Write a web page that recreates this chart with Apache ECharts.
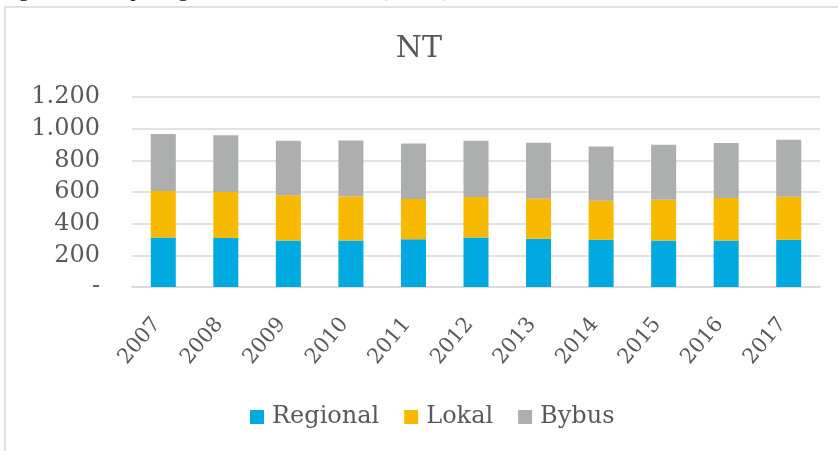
<!DOCTYPE html>
<html>
<head>
<meta charset="utf-8">
<script src="https://cdn.jsdelivr.net/npm/echarts@6/dist/echarts.min.js"></script>
<style>
  html, body { margin: 0; padding: 0; background: #fff; }
  #chart { width: 838px; height: 451px; }
</style>
</head>
<body>
<div id="chart"></div>
<script>
// data (i 1000)
const years = ['2007', '2008', '2009', '2010', '2011', '2012', '2013', '2014', '2015', '2016', '2017'];
const regional = [313, 309, 294, 294, 301, 313, 305, 299, 294, 294, 299];
const lokal = [293, 291, 285, 278, 255, 255, 253, 246, 257, 268, 271];
const bybus = [360, 358, 345, 354, 351, 356, 353, 343, 348, 347, 360];

const textColor = '#595959';
const font = 'DejaVu Serif';

const chart = echarts.init(document.getElementById('chart'));

const barSeries = (name, data, color) => ({
  name: name,
  type: 'bar',
  stack: 'total',
  data: data,
  barCategoryGap: '60%',
  itemStyle: { color: color },
  emphasis: { disabled: true },
});

const option = {
  animation: false,
  title: {
    text: 'NT',
    left: 'center',
    top: 29,
    textStyle: { fontFamily: font, fontSize: 30, fontWeight: 'normal', color: textColor },
  },
  // frame of the chart box and the clipped caption above it
  graphic: [
    {
      type: 'rect',
      shape: { x: 5, y: 7, width: 840, height: 460 },
      style: { fill: null, stroke: '#d9d9d9', lineWidth: 1.5 },
      silent: true,
    },
    {
      type: 'text',
      left: 0,
      top: -21,
      style: {
        text: 'Figur 3: Antal passagerer i NT, 2007-2017 (i 1000)',
        font: '22px "Liberation Serif"',
        fill: '#000',
      },
      silent: true,
    },
  ],
  legend: {
    bottom: 17,
    left: 245,
    itemWidth: 14,
    itemHeight: 14,
    itemGap: 25,
    icon: 'rect',
    textStyle: { fontFamily: font, fontSize: 24, color: textColor, padding: [0, 0, 0, 3] },
    data: ['Regional', 'Lokal', 'Bybus'],
  },
  grid: {
    left: 132,
    right: 18,
    top: 97,
    bottom: 164,
  },
  xAxis: {
    type: 'category',
    data: years,
    axisLine: { show: true, lineStyle: { color: '#d9d9d9', width: 1.5 } },
    axisTick: { show: false },
    axisLabel: {
      rotate: 50,
      margin: 26,
      padding: [0, 10, 0, 0],
      fontFamily: font,
      fontSize: 21,
      color: textColor,
    },
  },
  yAxis: {
    type: 'value',
    min: 0,
    max: 1200,
    interval: 200,
    axisLine: { show: false },
    axisTick: { show: false },
    splitLine: { lineStyle: { color: '#d9d9d9', width: 1.5 } },
    axisLabel: {
      margin: 32,
      fontFamily: font,
      fontSize: 24,
      color: textColor,
      formatter: function (v) {
        if (v === 0) return '-';
        return String(v).replace(/\B(?=(\d{3})+(?!\d))/g, '.');
      },
    },
  },
  series: [
    barSeries('Regional', regional, '#00A9E0'),
    barSeries('Lokal', lokal, '#F8BA00'),
    barSeries('Bybus', bybus, '#ADAFAE'),
  ],
};

chart.setOption(option);
</script>
</body>
</html>
